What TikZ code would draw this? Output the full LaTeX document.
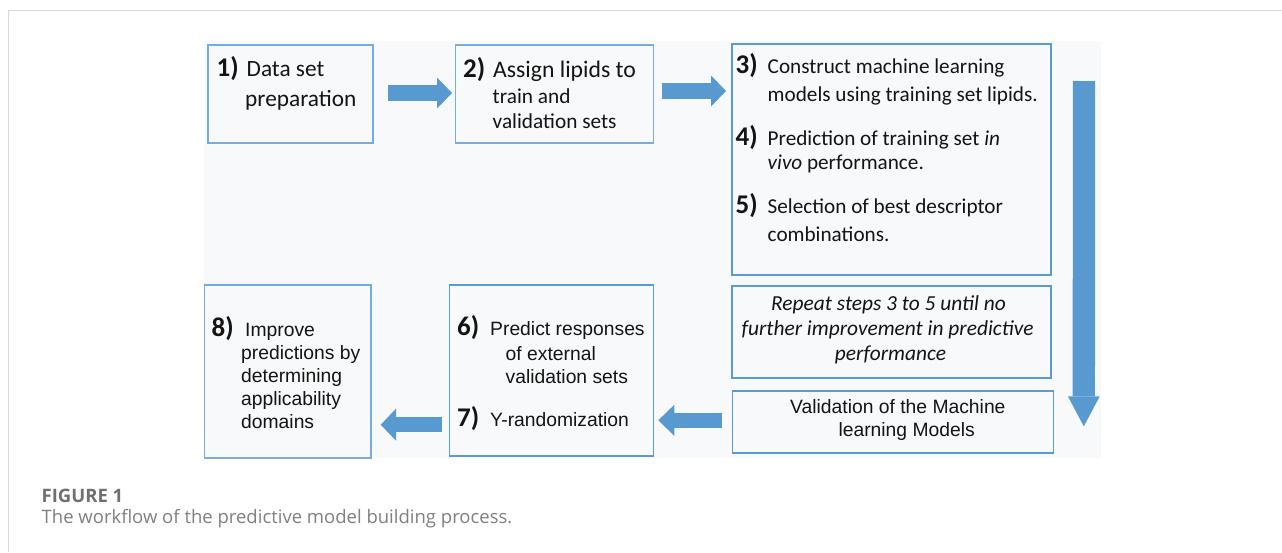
\documentclass[tikz,border=0pt]{standalone}
\usepackage{fontspec}
\usetikzlibrary{arrows.meta,calc}
\newfontfamily\calfont{Carlito}
\newfontfamily\arifont{Liberation Sans}
\newfontfamily\capfont{Open Sans}

\definecolor{boxblue}{RGB}{91,155,213}
\definecolor{lightboxblue}{RGB}{118,172,222}
\definecolor{arrowblue}{RGB}{88,153,208}
\definecolor{panelgray}{RGB}{248,249,250}
\definecolor{framegray}{RGB}{217,217,217}
\definecolor{figgray}{RGB}{112,112,112}
\definecolor{capgray}{RGB}{128,128,128}
\definecolor{ink}{RGB}{20,20,20}

\begin{document}
\begin{tikzpicture}[x=1pt,y=-1pt,
  box/.style={draw=boxblue, line width=1.3pt, inner sep=0pt, outer sep=0pt, anchor=north west},
  lightbox/.style={box, draw=lightboxblue, line width=1.2pt},
  num/.style={anchor=base west, inner sep=0pt, text=ink, font=\calfont\bfseries\fontsize{27}{30}\selectfont},
  cal/.style={anchor=base west, inner sep=0pt, text=ink, font=\calfont\fontsize{#1}{#1}\selectfont},
  cali/.style={anchor=base, inner sep=0pt, text=ink, font=\calfont\itshape\fontsize{21.4}{24}\selectfont},
  ari/.style={anchor=base west, inner sep=0pt, text=ink, font=\arifont\fontsize{19.3}{22}\selectfont},
  blockarrow/.style n args={3}{draw=arrowblue, line width=#1,
    -{Triangle[width=#2, length=#3, line width=0pt]}}
]
% page area and card frame
\useasboundingbox (0,0) rectangle (1282,552);
\fill[white] (0,0) rectangle (1282,552);
\draw[framegray, line width=1.2pt] (8.5,552) -- (8.5,10.5) -- (1282,10.5);

% light panel behind the flowchart
\fill[panelgray] (204,41) rectangle (1101,458);

% boxes
\node[lightbox, minimum width=165pt, minimum height=98pt] (b1) at (208,45) {};
\node[lightbox, minimum width=198pt, minimum height=98pt] (b2) at (455.5,45) {};
\node[box, minimum width=319pt, minimum height=231pt] (b3) at (732,44) {};
\node[box, minimum width=319pt, minimum height=92pt] (rep) at (732,286) {};
\node[box, minimum width=321pt, minimum height=62pt] (val) at (732.3,391) {};
\node[box, minimum width=204pt, minimum height=171pt] (b67) at (449.5,285) {};
\node[lightbox, minimum width=166.5pt, minimum height=173pt] (b8) at (204.5,285) {};

% step 1
\node[num] (n1) at (216.5,76) {1)};
\node[cal=23.3] (t1a) at (246.5,76) {Data set};
\node[cal=23.3] (t1b) at (245,106) {preparation};

% step 2
\node[num] (n2) at (463,77) {2)};
\node[cal=23.7] (t2a) at (493,77) {Assign lipids to};
\node[cal=21.3] (t2b) at (492.5,103.3) {train and};
\node[cal=21.3] (t2c) at (492.5,128.3) {validation sets};

% steps 3 to 5
\node[num] (n3) at (735.5,73.3) {3)};
\node[cal=21.2] (t3a) at (767.5,73.3) {Construct machine learning};
\node[cal=21.2] (t3b) at (767.5,101.7) {models using training set lipids.};
\node[num] (n4) at (735.5,145) {4)};
\node[cal=21.2] (t4a) at (767.5,145) {Prediction of training set \textit{in}};
\node[cal=21.2] (t4b) at (767.5,169.5) {\textit{vivo} performance.};
\node[num] (n5) at (735.5,213.3) {5)};
\node[cal=21.2] (t5a) at (767.5,213.3) {Selection of best descriptor};
\node[cal=21.2] (t5b) at (767.5,241.3) {combinations.};

% repeat note
\node[cali] (r1) at (888.5,310.7) {Repeat steps 3 to 5 until no};
\node[cali] (r2) at (887.5,335) {further improvement in predictive};
\node[cali] (r3) at (890.5,360) {performance};

% validation
\node[ari] (v1) at (790,413.3) {Validation of the Machine};
\node[ari] (v2) at (838.3,436.7) {learning Models};

% steps 6 and 7
\node[num] (n6) at (457,335) {6)};
\node[ari] (t6a) at (490,335) {Predict responses};
\node[ari] (t6b) at (505.5,360) {of external};
\node[ari] (t6c) at (505.5,383.3) {validation sets};
\node[num] (n7) at (457,426.7) {7)};
\node[ari] (t7) at (490,426.7) {Y-randomization};

% step 8
\node[num] (n8) at (211.5,336) {8)};
\node[ari] (t8a) at (245,336) {Improve};
\node[ari] (t8b) at (241,359.5) {predictions by};
\node[ari] (t8c) at (241,382.5) {determining};
\node[ari] (t8d) at (241,405.5) {applicability};
\node[ari] (t8e) at (241,428.5) {domains};

% block arrows between the boxes
\draw[blockarrow={16pt}{31pt}{15pt}] ($(b1.east)+(15,-1)$) -- ($(b2.west)+(-3.5,-1)$);
\draw[blockarrow={16pt}{31pt}{15pt}] ($(b2.east)+(8.5,-3)$) -- ($(b2.east -| b3.west)+(-6,-3)$);
\draw[blockarrow={22.3pt}{31.7pt}{30pt}] ($(b3.north east)+(33,37)$) -- ($(val.south east)+(30.5,-26.6)$);
\draw[blockarrow={15.6pt}{31pt}{16pt}] ($(val.west)+(-10.6,-1.7)$) -- ($(val.west -| b67.east)+(4.8,-1.7)$);
\draw[blockarrow={15.4pt}{32pt}{15.3pt}] ($(b67.south west)+(-7.2,-31.3)$) -- ($(b67.south west -| b8.east)+(9.7,-31.3)$);

% caption
\node[anchor=base west, inner sep=0pt, text=figgray, font=\capfont\bfseries\fontsize{18.5}{21}\selectfont] (fig) at (41.5,502.7) {FIGURE 1};
\node[anchor=base west, inner sep=0pt, text=capgray, font=\capfont\fontsize{18.5}{22}\selectfont] (cap) at (41.5,523.3) {The workflow of the predictive model building process.};
\end{tikzpicture}
\end{document}
